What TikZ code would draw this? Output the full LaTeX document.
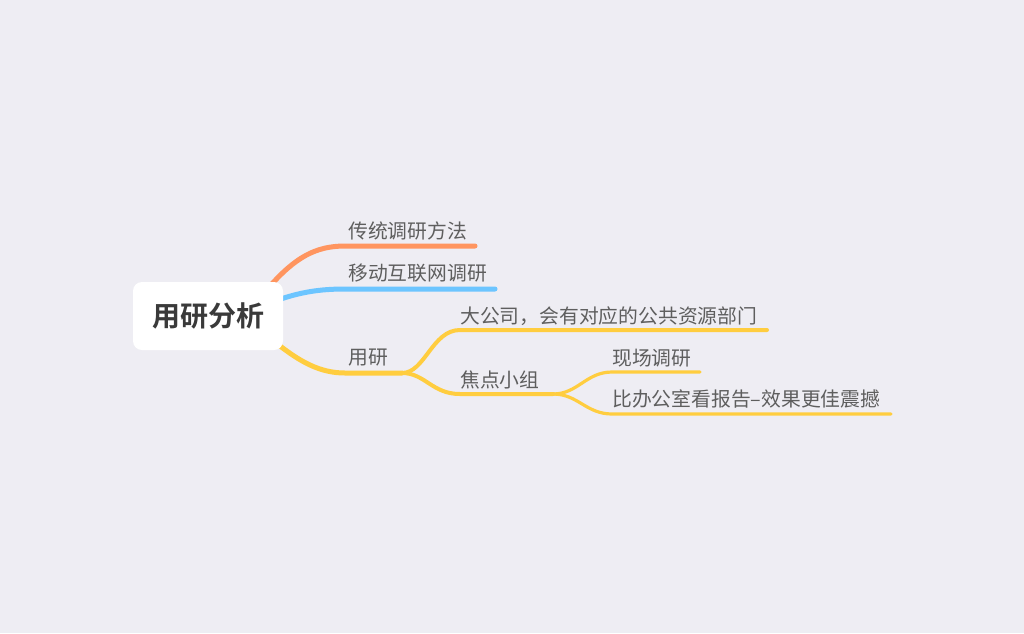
\documentclass[tikz,border=0pt]{standalone}
\usepackage{fontspec}
\setmainfont{Noto Sans CJK SC}
\newfontfamily\cjkbold{Noto Sans CJK SC Bold}
\definecolor{bg}{HTML}{EEEDF3}
\definecolor{orangeb}{HTML}{FF955F}
\definecolor{blueb}{HTML}{6CC5FF}
\definecolor{yellowb}{HTML}{FFCD3F}
\definecolor{labelc}{HTML}{5E5E5E}
\definecolor{rootc}{HTML}{3A3A3A}
\tikzset{
  lbl/.style={anchor=west, inner sep=0pt, text=labelc, font=\fontsize{19.8}{19.8}\selectfont},
  br1/.style={line width=5pt, line cap=round},
  br2/.style={line width=4pt, line cap=round, yellowb},
  br3/.style={line width=3.2pt, line cap=round, yellowb},
}
\begin{document}
\begin{tikzpicture}[x=1pt, y=-1pt]
\fill[bg] (0,0) rectangle (1024,633);
\useasboundingbox (0,0) rectangle (1024,633);

% branch end points
\coordinate (a1) at (345,246); \coordinate (a2) at (475,246);
\coordinate (b1) at (345,289); \coordinate (b2) at (495,289);
\coordinate (c1) at (345,373); \coordinate (c2) at (402,373);
\coordinate (d1) at (460,330); \coordinate (d2) at (767,330);
\coordinate (e1) at (460,394); \coordinate (e2) at (553,394);
\coordinate (f1) at (612,372); \coordinate (f2) at (700,372);
\coordinate (g1) at (612,414); \coordinate (g2) at (891,414);

% connectors (drawn beneath the central box)
\draw[br1, orangeb] (270,286) .. controls (295,258) and (315,246) .. (a1) -- (a2);
\draw[br1, blueb] (275,301) .. controls (300,292) and (320,289) .. (b1) -- (b2);
\draw[br1, yellowb] (275,342) .. controls (300,362) and (320,373) .. (c1) -- (c2);
\draw[br2] (c2) .. controls (425,373) and (432,330) .. (d1) -- (d2);
\draw[br2] (c2) .. controls (425,373) and (432,394) .. (e1) -- (e2);
\draw[br3] (e2) .. controls (578,394) and (586,372) .. (f1) -- (f2);
\draw[br3] (e2) .. controls (578,394) and (586,414) .. (g1) -- (g2);

% central topic
\node[fill=white, rounded corners=9pt, minimum width=150pt, minimum height=68pt,
      inner sep=0pt, text=rootc, font=\cjkbold\fontsize{28}{28}\selectfont]
      (root) at (208,316) {用研分析};

% labels
\node[lbl] (ta) at (348,231) {传统调研方法};
\node[lbl] (tb) at (348,273) {移动互联网调研};
\node[lbl] (tc) at (348,358) {用研};
\node[lbl] (td) at (460,316) {大公司，会有对应的公共资源部门};
\node[lbl] (te) at (460,380) {焦点小组};
\node[lbl] (tf) at (612,358) {现场调研};
\node[lbl] (tg) at (612,399) {比办公室看报告–效果更佳震撼};
\end{tikzpicture}
\end{document}
